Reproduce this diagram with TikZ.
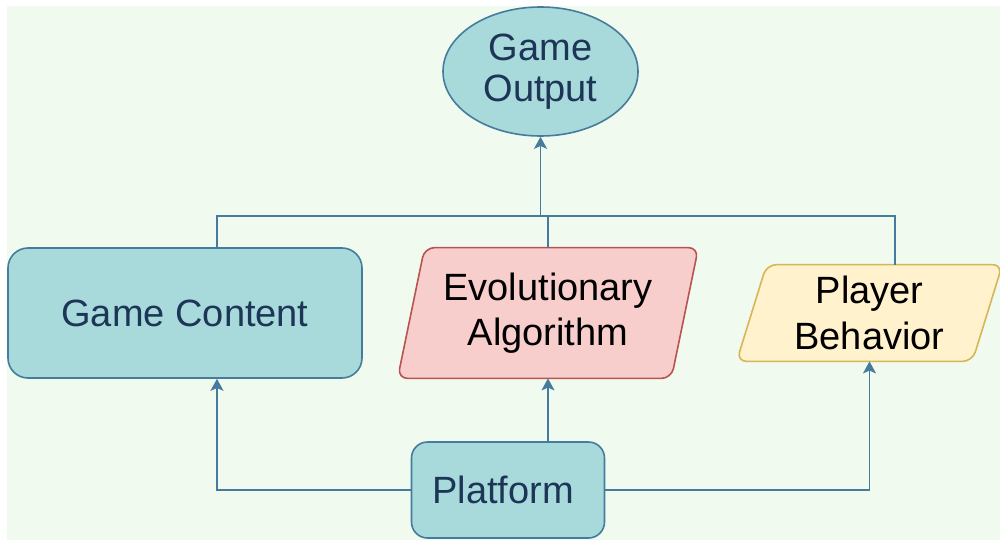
\documentclass[tikz,border=0pt]{standalone}
\usepackage{fontspec}
\setmainfont{Liberation Sans}
\usetikzlibrary{arrows.meta,shapes.geometric}
\pgfdeclarelayer{paper}
\pgfdeclarelayer{shapes}
\pgfsetlayers{paper,shapes,main}

\definecolor{canvas}{HTML}{F1FAEE}
\definecolor{tealfill}{HTML}{A8DADC}
\definecolor{tealline}{HTML}{457B9D}
\definecolor{navytext}{HTML}{1D3557}
\definecolor{redfill}{HTML}{F8CECC}
\definecolor{redline}{HTML}{B85450}
\definecolor{yelfill}{HTML}{FFF2CC}
\definecolor{yelline}{HTML}{D6B656}

\tikzset{
  label font/.style={font=\fontsize{19}{22.75}\selectfont, align=center},
  tealbox/.style={label font, draw=tealline, fill=tealfill, text=navytext, line width=0.8pt},
  roundbox/.style={tealbox, rectangle, rounded corners=#1},
  oval/.style={tealbox, ellipse, font=\fontsize{19}{20.5}\selectfont, inner sep=0pt},
  slantbody/.style={label font, text=black, inner sep=0pt},
  wire/.style={draw=tealline, line width=0.85pt},
  feed/.style={wire, -{Stealth[length=6pt, width=6.5pt, inset=1.4pt]}},
}

\begin{document}
\begin{tikzpicture}[x=0.5pt, y=-0.5pt]
  \path[use as bounding box] (0,0) rectangle (1000,540);
  \begin{pgfonlayer}{paper}
    \fill[canvas] (7,6) rectangle (1000,540);
  \end{pgfonlayer}

  % nodes
  \node[oval, minimum width=97.5pt, minimum height=64.5pt] (out) at (540.5,71.5) {Game\\Output};
  \node[roundbox=10pt, minimum width=177pt, minimum height=65pt] (content) at (185,313) {Game Content};
  \node[slantbody, minimum width=150pt, minimum height=65pt] (evo) at (548,313) {Evolutionary\\Algorithm};
  \node[slantbody, minimum width=132.5pt, minimum height=48pt] (player) at (869.5,313) {Player\\Behavior};
  \node[roundbox=8pt, minimum width=96.5pt, minimum height=48pt] (platform) at (508,490) {\hspace*{-5pt}Platform};

  % slanted bodies behind their labels
  \begin{pgfonlayer}{shapes}
    \draw[draw=redline, fill=redfill, line width=0.8pt, rounded corners=5pt]
      ([xshift=13.5pt]evo.north west) -- (evo.north east)
      -- ([xshift=-13.5pt]evo.south east) -- (evo.south west) -- cycle;
    \draw[draw=yelline, fill=yelfill, line width=0.8pt, rounded corners=5pt]
      ([xshift=15pt]player.north west) -- (player.north east)
      -- ([xshift=-15pt]player.south east) -- (player.south west) -- cycle;
  \end{pgfonlayer}

  % upper bus
  \coordinate (busL) at (217,216);
  \coordinate (busM) at (540.5,216);
  \coordinate (busR) at (895,216);
  \draw[wire] (content.north -| busL) |- (busR) -- (player.north -| busR);
  \draw[wire] (evo.north) -- (evo.north |- busM);
  \draw[feed] (busM) -- (out.south);

  % platform feeds
  \draw[feed] (platform.west) -| (content.south -| busL);
  \draw[feed] (platform.north -| evo.south) -- (evo.south);
  \draw[feed] (platform.east) -| (player.south);
\end{tikzpicture}
\end{document}
